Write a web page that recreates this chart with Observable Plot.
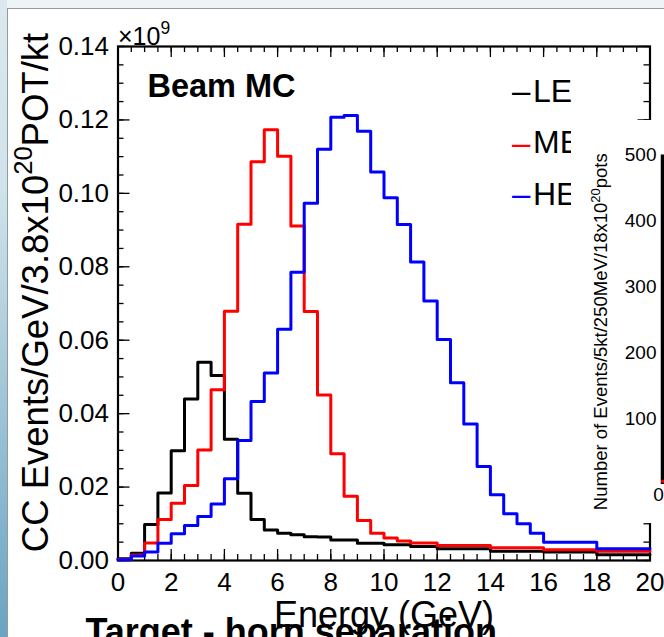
<!DOCTYPE html>
<html><head><meta charset="utf-8">
<script src="https://cdn.jsdelivr.net/npm/d3@7"></script>
<script src="https://cdn.jsdelivr.net/npm/@observablehq/plot@0.6"></script>
<style>
html,body{margin:0;padding:0;overflow:hidden;}
body{width:664px;height:637px;position:relative;background:#eef3f5;font-family:"Liberation Sans",Arial,sans-serif;}
#strip{position:absolute;left:0;top:0;width:7px;height:637px;background:linear-gradient(#dbe8ee,#d0e2ea 30%,#6aa4c2);}
#panel{position:absolute;left:7px;top:8px;width:700px;height:700px;background:#fff;border-left:1.5px solid #8e9ca3;border-top:1.5px solid #8e9ca3;}
#main{position:absolute;left:0;top:0;}
#inset{position:absolute;left:571px;top:120px;}
svg{overflow:visible;}
</style></head><body>
<div id="strip"></div><div id="panel"></div>
<div id="main"></div><div id="inset"></div>
<script>
// ---------- data (values in units of 10^9) ----------
const leEdges = [0,0.5,1,1.5,2,2.5,3,3.5,4,4.5,5,5.5,6,6.5,7,7.5,8,9,10,11,12,14,16,18,20];
const leValues = [0.0005,0.0020,0.0098,0.0184,0.0299,0.0440,0.0540,0.0504,0.0330,0.0183,0.0112,0.0083,0.0074,0.0070,0.0065,0.0064,0.0056,0.0047,0.0043,0.0038,0.0032,0.0025,0.0023,0.0016];

const meEdges = [0,0.5,1,1.5,2,2.5,3,3.5,4,4.5,5,5.5,6,6.5,7,7.5,8,8.5,9,9.5,10,10.5,11,12,14,16,18,20];
const meValues = [0.0003,0.0015,0.0048,0.0112,0.0156,0.0204,0.0301,0.0465,0.0679,0.0916,0.1086,0.1173,0.1101,0.0911,0.0678,0.0451,0.0291,0.0175,0.0109,0.0074,0.0061,0.0053,0.0048,0.0041,0.0035,0.0029,0.0025];

const heEdges = [0,0.5,1,1.5,2,2.5,3,3.5,4,4.5,5,5.5,6,6.5,7,7.5,8,8.5,9,9.5,10,10.5,11,11.5,12,12.5,13,13.5,14,14.5,15,15.5,16,18,20];
const heValues = [0.0002,0.0012,0.0023,0.0047,0.0073,0.0095,0.0120,0.0154,0.0223,0.0327,0.0433,0.0511,0.0630,0.0785,0.0973,0.1120,0.1207,0.1212,0.1169,0.1058,0.0988,0.0915,0.0813,0.0707,0.0602,0.0484,0.0372,0.0256,0.0179,0.0127,0.0100,0.0074,0.0050,0.0032];

const xMajor = [0,2,4,6,8,10,12,14,16,18,20];
const yMajor = [0,0.02,0.04,0.06,0.08,0.10,0.12,0.14];
const legendNames = ["LE","ME","HE"];
const seriesColors = ["#000000","#ff0000","#0000ff"];

const insetTicks = [100,200,300,400,500];
const insetXTicks = [0];
const insetMEx = [0,1];
const insetMEy = [5,5];

const yTitle = "CC Events/GeV/3.8x10^{20}POT/kt";
const xTitle = "Energy (GeV)";
const expLabel = "\u00d710^{9}";
const insetTitle = "Number of Events/5kt/250MeV/18x10^{20}pots";
// ----------------------------------------------------

const F = "'Liberation Sans', Arial, Helvetica, sans-serif";
function steps(edges, values){
  const pts = values.map((v,i)=>({x:edges[i], y:v}));
  pts.push({x:edges[edges.length-1], y:values[values.length-1]});
  return pts;
}
const xMinor = d3.range(0, 20.001, 0.5);
const yMinor = d3.range(0, 0.14001, 0.005);

const frameH = 514, frameW = 532;
const hists = [[leEdges,leValues],[meEdges,meValues],[heEdges,heValues]];

const legendMarks = legendNames.flatMap((n,i)=>[
  Plot.text(["\u2013"], {text:d=>d, frameAnchor:"top-left", dx:394, dy:45+i*51.5, lineAnchor:"middle", textAnchor:"start", fontSize:33, fill:seriesColors[i]}),
  Plot.text([n], {text:d=>d, frameAnchor:"top-left", dx:415, dy:45+i*51.5, lineAnchor:"middle", textAnchor:"start", fontSize:32, fill:"#000"})
]);

const main = Plot.plot({
  width:664, height:637,
  marginLeft:117.5, marginRight:14.5, marginTop:46, marginBottom:77,
  x:{domain:[0,20]}, y:{domain:[0,0.14]},
  style:{background:"transparent", fontFamily:F, color:"#000"},
  marks:[
    Plot.tickX(xMinor, {x:d=>d, insetTop:frameH-6, stroke:"#000", strokeWidth:1.3}),
    Plot.tickX(xMajor, {x:d=>d, insetTop:frameH-11, stroke:"#000", strokeWidth:1.3}),
    Plot.tickX(xMinor, {x:d=>d, insetBottom:frameH-6, stroke:"#000", strokeWidth:1.3}),
    Plot.tickX(xMajor, {x:d=>d, insetBottom:frameH-11, stroke:"#000", strokeWidth:1.3}),
    Plot.tickY(yMinor, {y:d=>d, insetRight:frameW-6, stroke:"#000", strokeWidth:1.3}),
    Plot.tickY(yMajor, {y:d=>d, insetRight:frameW-12, stroke:"#000", strokeWidth:1.3}),
    Plot.tickY(yMinor, {y:d=>d, insetLeft:frameW-6, stroke:"#000", strokeWidth:1.3}),
    Plot.tickY(yMajor, {y:d=>d, insetLeft:frameW-12, stroke:"#000", strokeWidth:1.3}),
    Plot.frame({stroke:"#000", strokeWidth:2.2}),
    ...hists.map(([e,v],i)=>Plot.line(steps(e,v), {x:"x", y:"y", curve:"step-after", stroke:seriesColors[i], strokeWidth:3})),
    Plot.axisX(xMajor, {tickSize:0, tickPadding:12, fontSize:26, tickFormat:d=>String(d), label:null}),
    Plot.axisY(yMajor, {tickSize:0, tickPadding:9, fontSize:26, tickFormat:d3.format(".2f"), label:null}),
    Plot.text([yTitle], {text:d=>d, frameAnchor:"left", dx:-82, dy:-11, rotate:-90, fontSize:36.5, lineAnchor:"middle", textAnchor:"middle"}),
    Plot.text([xTitle], {text:d=>d, frameAnchor:"bottom", dy:41, fontSize:36, lineAnchor:"top", textAnchor:"middle"}),
    Plot.text([expLabel], {text:d=>d, frameAnchor:"top-left", dx:0, dy:-2, fontSize:25, lineAnchor:"bottom", textAnchor:"start"}),
    Plot.text(["Beam MC"], {text:d=>d, frameAnchor:"top-left", dx:29.5, dy:27, fontSize:32.5, fontWeight:"bold", lineAnchor:"top", textAnchor:"start"}),
    ...legendMarks,
    Plot.text(["Target - horn separation"], {text:d=>d, frameAnchor:"bottom-left", dx:-32.5, dy:58, fontSize:36, fontWeight:"bold", lineAnchor:"top", textAnchor:"start"})
  ]
});
document.getElementById("main").appendChild(main);

const inset = Plot.plot({
  width:93, height:403,
  marginLeft:91, marginRight:0, marginTop:34.5, marginBottom:39,
  x:{domain:[0,1]}, y:{domain:[0,500]},
  style:{background:"#fff", fontFamily:F, color:"#000"},
  marks:[
    Plot.axisY(insetTicks, {tickSize:0, tickPadding:6, fontSize:19, label:null}),
    Plot.axisX(insetXTicks, {tickSize:0, tickPadding:3, fontSize:19, label:null, dx:-4}),
    Plot.ruleX([0], {x:d=>d, stroke:"#000", strokeWidth:3.5}),
    Plot.line(insetMEx.map((x,i)=>({x, y:insetMEy[i]})), {x:"x", y:"y", stroke:"#ff0000", strokeWidth:3}),
    Plot.text([insetTitle], {text:d=>d, frameAnchor:"left", dx:-61, dy:12, rotate:-90, fontSize:18.5, lineAnchor:"middle", textAnchor:"middle"})
  ]
});
document.getElementById("inset").appendChild(inset);

// superscripts: "a^{b}c" -> tspans
function applySup(svg){
  d3.select(svg).selectAll("text").each(function(){
    const t = this.textContent;
    const m = t.match(/^(.*)\^\{(.*?)\}(.*)$/);
    if (!m) return;
    const fs = parseFloat(this.getAttribute("font-size") || getComputedStyle(this).fontSize) || 20;
    const sh = fs*0.42;
    const sel = d3.select(this);
    sel.text(null);
    sel.append("tspan").text(m[1]);
    sel.append("tspan").attr("dy", -sh).attr("font-size", fs*0.7).text(m[2]);
    if (m[3]) sel.append("tspan").attr("dy", sh).text(m[3]);
  });
}
applySup(main); applySup(inset);
</script></body></html>
